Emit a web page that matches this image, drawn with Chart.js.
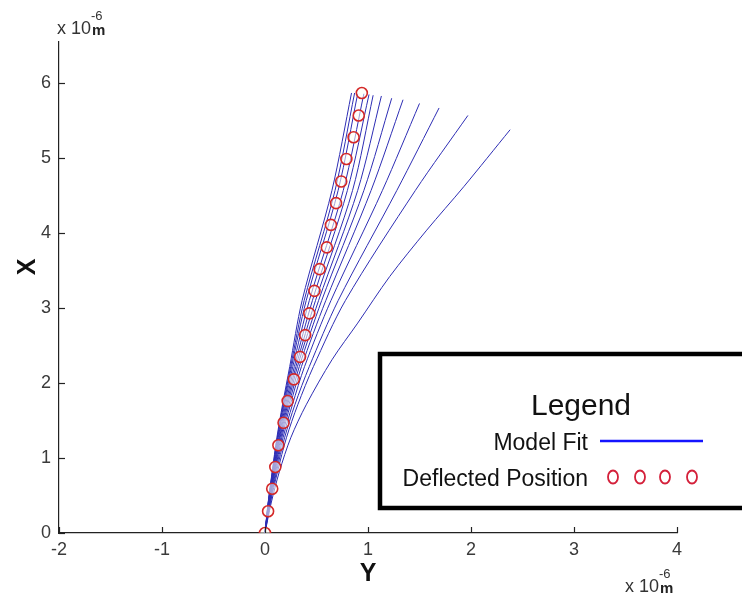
<!DOCTYPE html>
<html><head><meta charset="utf-8">
<script src="https://cdn.jsdelivr.net/npm/chart.js@4/dist/chart.umd.min.js"></script>
<style>html,body{margin:0;padding:0;background:#fff;}#wrap{position:relative;width:742px;height:602px;}</style>
</head><body><div id="wrap"><canvas id="c" width="742" height="602"></canvas></div>
<script>
// ---- data (units of 1e-6 m) ----
const xTickValues = [-2, -1, 0, 1, 2, 3, 4];
const yTickValues = [0, 1, 2, 3, 4, 5, 6];

// Deflected position (circles): horizontal "Y" deflection vs vertical "X" height
const posHeight = [0, 0.29, 0.59, 0.88, 1.17, 1.47, 1.76, 2.05, 2.35, 2.64, 2.93, 3.23, 3.52, 3.81, 4.11, 4.40, 4.69, 4.99, 5.28, 5.57, 5.87];
const posDefl   = [0, 0.03, 0.07, 0.10, 0.13, 0.18, 0.22, 0.28, 0.34, 0.39, 0.43, 0.48, 0.53, 0.60, 0.64, 0.69, 0.74, 0.79, 0.86, 0.91, 0.94];

// Model fit curves: deflection read at shared heights, plus each curve's tip
const fitLevels = [0, 0.4, 0.82, 1.27, 1.71, 2.22, 3.1, 4.57];
const fit01 = [0, 0.030, 0.070, 0.115, 0.170, 0.240, 0.36, 0.65];
const fit02 = [0, 0.031, 0.072, 0.119, 0.176, 0.249, 0.38, 0.68];
const fit03 = [0, 0.032, 0.074, 0.123, 0.182, 0.258, 0.40, 0.71];
const fit04 = [0, 0.033, 0.077, 0.128, 0.190, 0.270, 0.43, 0.76];
const fit05 = [0, 0.035, 0.081, 0.134, 0.200, 0.285, 0.46, 0.80];
const fit06 = [0, 0.036, 0.084, 0.140, 0.210, 0.300, 0.49, 0.85];
const fit07 = [0, 0.038, 0.088, 0.146, 0.220, 0.315, 0.52, 0.90];
const fit08 = [0, 0.039, 0.092, 0.154, 0.232, 0.333, 0.55, 0.96];
const fit09 = [0, 0.041, 0.097, 0.163, 0.246, 0.354, 0.59, 1.03];
const fit10 = [0, 0.044, 0.104, 0.175, 0.266, 0.384, 0.64, 1.14];
const fit11 = [0, 0.048, 0.112, 0.190, 0.290, 0.430, 0.71, 1.28];
const fit12 = [0, 0.052, 0.122, 0.208, 0.318, 0.470, 0.78, 1.46];
const fitTipDefl   = [0.84, 0.87, 0.90, 0.96, 1.01, 1.05, 1.13, 1.23, 1.34, 1.50, 1.69, 1.97];
const fitTipHeight = [5.87, 5.87, 5.86, 5.86, 5.85, 5.84, 5.83, 5.80, 5.78, 5.73, 5.67, 5.57];
// widest curve, read at its own heights
const fit13Height = [0, 0.4, 0.82, 1.27, 1.71, 2.31, 2.8, 3.42, 4.04, 4.62, 5.38];
const fit13Defl   = [0, 0.06, 0.14, 0.25, 0.40, 0.65, 0.90, 1.21, 1.57, 1.93, 2.38];

const legendTitle = 'Legend';
const seriesNames = ['Model Fit', 'Deflected Position'];

// ---- build datasets ----
const FONT = "'Liberation Sans', Arial, sans-serif";
const fitSets = [fit01, fit02, fit03, fit04, fit05, fit06, fit07, fit08, fit09, fit10, fit11, fit12];
const curveColor = 'rgb(45,45,180)';
const datasets = [{
  label: seriesNames[1],
  data: posDefl.map((d, i) => ({x: d, y: posHeight[i]})),
  showLine: false,
  pointStyle: 'circle',
  pointRadius: 5.5,
  pointBorderWidth: 1.6,
  pointBorderColor: '#d42828',
  pointBackgroundColor: 'rgba(255,255,245,0.55)',
  order: 0
}];
fitSets.forEach((arr, k) => {
  const pts = fitLevels.map((h, i) => ({x: arr[i], y: h}));
  pts.push({x: fitTipDefl[k], y: fitTipHeight[k]});
  datasets.push({label: seriesNames[0], data: pts, showLine: true, borderColor: curveColor,
    borderWidth: 1, pointRadius: 0, tension: 0.3, order: 1});
});
datasets.push({label: seriesNames[0], data: fit13Defl.map((d, i) => ({x: d, y: fit13Height[i]})),
  showLine: true, borderColor: curveColor, borderWidth: 1, pointRadius: 0, tension: 0.3, order: 1});

// ---- decorations plugin: inward ticks, exponent labels, y title, legend box ----
const deco = {
  id: 'deco',
  afterDraw(chart) {
    const ctx = chart.ctx, a = chart.chartArea, xs = chart.scales.x, ys = chart.scales.y;
    ctx.save();
    ctx.strokeStyle = '#222'; ctx.lineWidth = 1.2;
    xs.ticks.forEach(t => { const p = Math.round(xs.getPixelForValue(t.value)) + 0.5;
      ctx.beginPath(); ctx.moveTo(p, a.bottom); ctx.lineTo(p, a.bottom - 6); ctx.stroke(); });
    ys.ticks.forEach(t => { const p = Math.round(ys.getPixelForValue(t.value)) + 0.5;
      ctx.beginPath(); ctx.moveTo(a.left, p); ctx.lineTo(a.left + 6, p); ctx.stroke(); });

    // exponent labels
    function expo(x, base) {
      ctx.fillStyle = '#333'; ctx.textBaseline = 'alphabetic'; ctx.textAlign = 'left';
      ctx.font = '18px ' + FONT; ctx.fillText('x 10', x, base);
      const w = ctx.measureText('x 10').width;
      ctx.font = '13px ' + FONT; ctx.fillText('-6', x + w, base - 14);
      ctx.font = 'bold 15px ' + FONT; ctx.fillStyle = '#222'; ctx.fillText('m', x + w + 1, base + 1);
    }
    expo(57, 34);
    expo(625, 592);

    // y title "X"
    ctx.save(); ctx.translate(28, 267); ctx.rotate(-Math.PI / 2);
    ctx.font = 'bold 25px ' + FONT; ctx.fillStyle = '#111'; ctx.textAlign = 'center'; ctx.textBaseline = 'middle';
    ctx.fillText('X', 0, 0); ctx.restore();

    // legend box
    ctx.fillStyle = '#fff'; ctx.fillRect(380, 354, 380, 154);
    ctx.strokeStyle = '#000'; ctx.lineWidth = 4.5; ctx.strokeRect(380, 354, 380, 154);
    ctx.fillStyle = '#111'; ctx.textBaseline = 'alphabetic';
    ctx.textAlign = 'center'; ctx.font = '30px ' + FONT; ctx.fillText(legendTitle, 581, 415);
    ctx.textAlign = 'right'; ctx.font = '23px ' + FONT;
    ctx.fillText(seriesNames[0], 588, 450);
    ctx.fillText(seriesNames[1], 588, 486);
    ctx.strokeStyle = '#1414ff'; ctx.lineWidth = 2.5;
    ctx.beginPath(); ctx.moveTo(600, 441); ctx.lineTo(703, 441); ctx.stroke();
    ctx.strokeStyle = '#d4203a'; ctx.lineWidth = 1.8;
    [613, 640, 665, 692].forEach(cx => { ctx.beginPath(); ctx.ellipse(cx, 477, 5, 6.5, 0, 0, Math.PI * 2); ctx.stroke(); });
    ctx.restore();
  }
};

new Chart(document.getElementById('c'), {
  type: 'scatter',
  data: {datasets},
  plugins: [deco],
  options: {
    responsive: false, animation: false, devicePixelRatio: 1,
    layout: {padding: {left: 0, right: 65, top: 42, bottom: 0}},
    plugins: {legend: {display: false}, tooltip: {enabled: false}},
    scales: {
      x: {type: 'linear', position: 'bottom', min: xTickValues[0], max: xTickValues[xTickValues.length - 1],
        afterFit(s) { s.height = 69; s.paddingLeft = 0; s.paddingRight = 0; },
        afterBuildTicks(s) { s.ticks = xTickValues.map(v => ({value: v})); },
        grid: {drawOnChartArea: false, drawTicks: false},
        border: {display: true, color: '#222', width: 1.2},
        ticks: {padding: 6, color: '#3a3a3a', font: {family: FONT, size: 18}, maxRotation: 0, autoSkip: false},
        title: {display: true, text: 'Y', color: '#111', font: {family: FONT, size: 25, weight: 'bold'}, padding: {top: 0, bottom: 13}}
      },
      y: {type: 'linear', position: 'left', min: 0, max: 6.55,
        afterFit(s) { s.width = 59; s.paddingTop = 0; s.paddingBottom = 0; },
        afterBuildTicks(s) { s.ticks = yTickValues.map(v => ({value: v})); },
        grid: {drawOnChartArea: false, drawTicks: false},
        border: {display: true, color: '#222', width: 1.2},
        ticks: {padding: 8, color: '#3a3a3a', font: {family: FONT, size: 18}, autoSkip: false}
      }
    }
  }
});
</script></body></html>
